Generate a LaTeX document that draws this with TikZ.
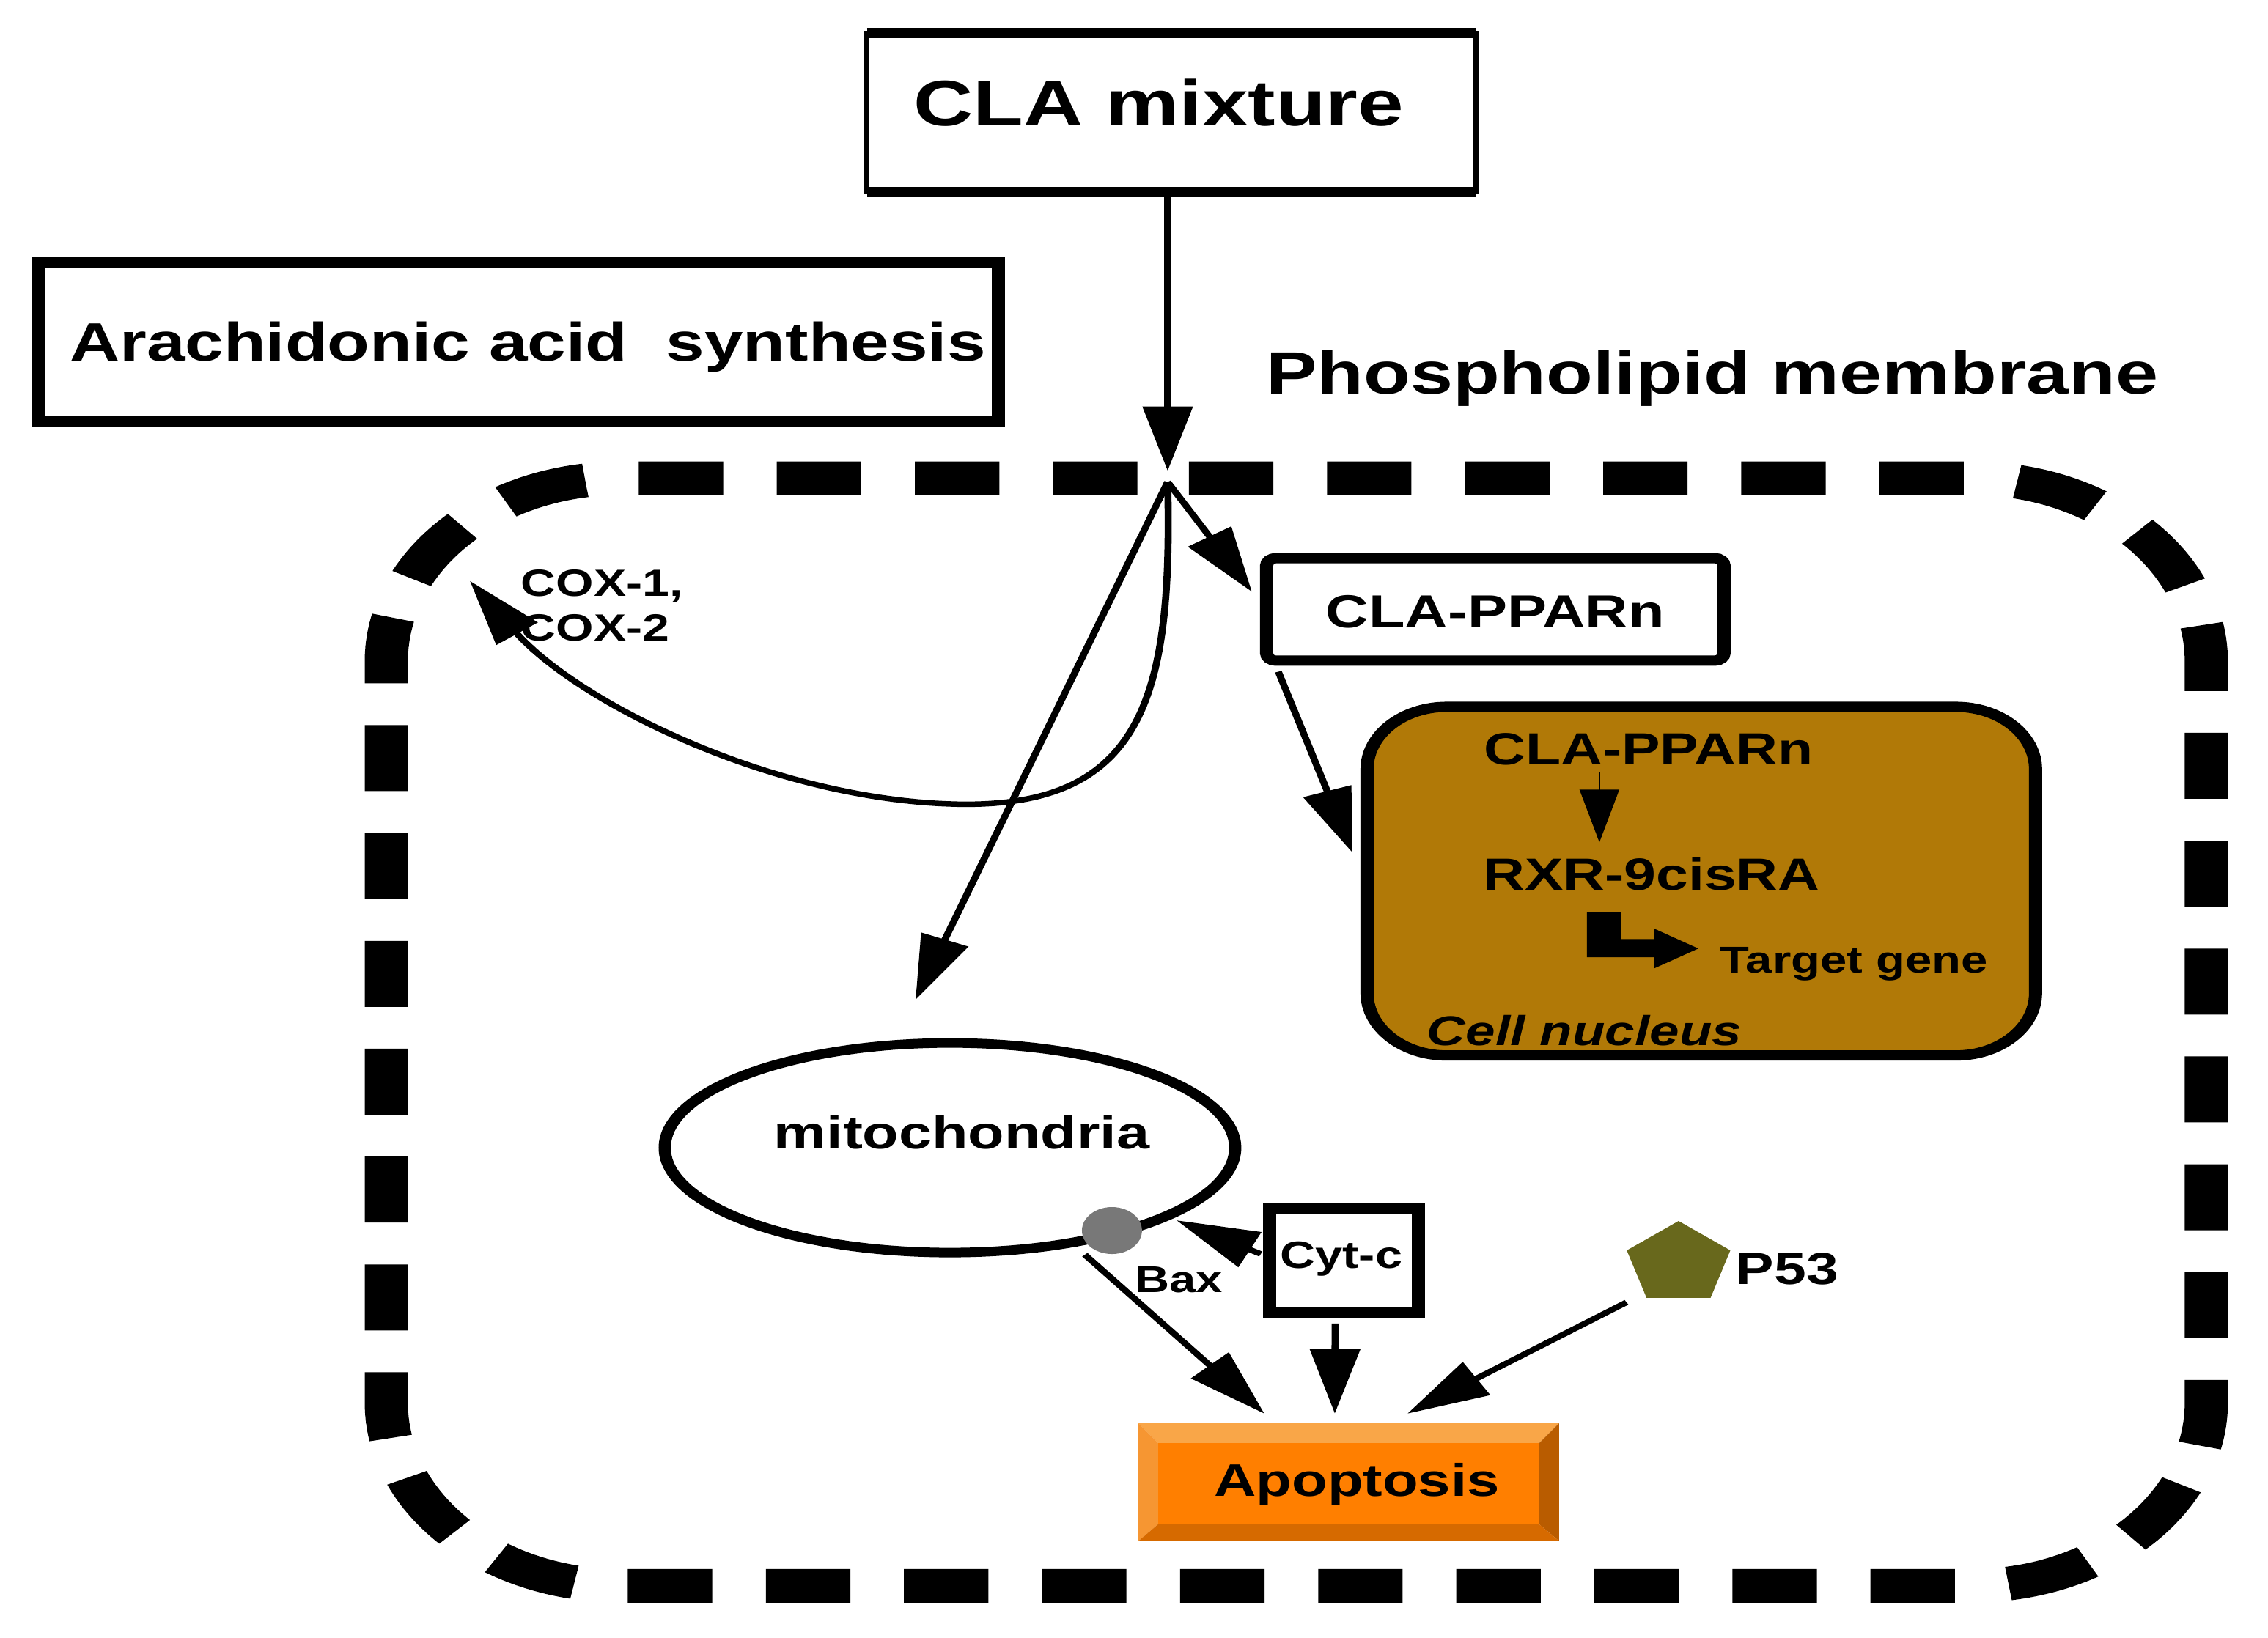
\documentclass[tikz,border=0pt]{standalone}
\usepackage{fontspec}
\setmainfont{Liberation Sans}
\usetikzlibrary{arrows.meta,shapes.geometric,fit}
\definecolor{nucbrown}{RGB}{177,121,7}
\definecolor{apomain}{RGB}{255,127,0}
\definecolor{apolight}{RGB}{249,166,72}
\definecolor{apoleft}{RGB}{246,150,50}
\definecolor{apodark}{RGB}{185,92,0}
\definecolor{apobot}{RGB}{214,106,0}
\definecolor{pfivethree}{RGB}{104,104,28}
\definecolor{baxgray}{RGB}{120,120,120}
\begin{document}
\begin{tikzpicture}[
  box/.style={draw, line width=0.14cm, inner sep=0pt, outer sep=0pt},
  arr/.style={line width=0.075cm, -{Triangle[length=0.88cm,width=0.52cm]}},
  sarr/.style={line width=0.02cm, -{Triangle[length=0.72cm,width=0.42cm]}},
  lbl/.style={inner sep=0pt, outer sep=0pt, text=black},
]
\useasboundingbox (0,0) rectangle (30.94cm,-22.35cm);
\fill[white] (0,0) rectangle (30.94cm,-22.35cm);
\begin{scope}[transform canvas={xscale=1.28}, x=0.0078125cm, y=-0.01cm]
  % membrane
  \draw[line width=0.46cm, dash pattern=on 0.9cm off 0.5716cm, rounded corners=2.5cm]
    (1622,653) -- (3010,653) -- (3010,2165) -- (527,2165) -- (527,653) -- (1556,653);

  % boxes
  \node[draw, line width=0.055cm, inner sep=0pt, outer sep=0pt, fit={(1183,45)(2014,262)}] (cla) {};
  \draw[line width=0.14cm] (cla.north west) -- (cla.north east);
  \draw[line width=0.14cm] (cla.south west) -- (cla.south east);
  \node[box, fit={(52,358)(1362,575)}] (ara) {};
  \node[box, rounded corners=0.1cm, fit={(1728,762)(2352,902)}] (ppar) {};
  \node[box, rounded corners=0.85cm, fill=nucbrown, fit={(1865,965)(2777,1441)}] (nuc) {};
  \node[box, fit={(1732,1650)(1935,1792)}] (cytc) {};
  \node[draw, ellipse, line width=0.13cm, inner sep=0pt, outer sep=0pt,
        minimum width=6.08cm, minimum height=2.86cm] (mito) at (1296,1567) {};
  \node[circle, fill=baxgray, inner sep=0pt, minimum size=0.64cm] (bax) at (1517,1680) {};
  \node[regular polygon, regular polygon sides=5, fill=pfivethree, inner sep=0pt,
        minimum size=1.16cm] (p53) at (2290,1725) {};
  \node[inner sep=0pt, outer sep=0pt, fit={(1553,1943)(2127,2104)}] (apo) {};
  \fill[apolight] (1553,1943) -- (2127,1943) -- (2100,1970) -- (1580,1970) -- cycle;
  \fill[apoleft] (1553,1943) -- (1580,1970) -- (1580,2081) -- (1553,2104) -- cycle;
  \fill[apodark] (2127,1943) -- (2127,2104) -- (2100,2081) -- (2100,1970) -- cycle;
  \fill[apobot] (1553,2104) -- (2127,2104) -- (2100,2081) -- (1580,2081) -- cycle;
  \fill[apomain] (1580,1970) rectangle (2100,2081);

  % texts
  \node[lbl, anchor=base, font=\fontsize{25}{30}\selectfont\bfseries] (claT) at (1581,172) {CLA mixture};
  \node[lbl, anchor=base, font=\fontsize{21}{25}\selectfont\bfseries] (araT) at (720,493) {Arachidonic acid\ \ synthesis};
  \node[lbl, anchor=base, font=\fontsize{23.2}{27}\selectfont\bfseries] (memT) at (2336,538) {Phospholipid membrane};
  \node[lbl, anchor=base, font=\fontsize{18}{22}\selectfont\bfseries] (pparT) at (2040,857) {CLA-PPARn};
  \node[lbl, anchor=base, font=\fontsize{17.5}{21}\selectfont\bfseries] (nclaT) at (2249,1044) {CLA-PPARn};
  \node[lbl, anchor=base, font=\fontsize{17.5}{21}\selectfont\bfseries] (rxrT) at (2253,1215) {RXR-9cisRA};
  \node[lbl, anchor=base west, font=\fontsize{14.5}{17}\selectfont\bfseries] (tgT) at (2347,1328) {Target gene};
  \node[lbl, anchor=base west, font=\fontsize{16.2}{19}\selectfont\bfseries\itshape] (cnT) at (1947,1427) {Cell nucleus};
  \node[lbl, anchor=base, font=\fontsize{18}{22}\selectfont\bfseries] (mitoT) at (1312,1568) {mitochondria};
  \node[lbl, anchor=base, font=\fontsize{14.5}{17}\selectfont\bfseries] (baxT) at (1608,1765) {Bax};
  \node[lbl, anchor=base, font=\fontsize{14.8}{17}\selectfont\bfseries] (cytT) at (1830,1731) {Cyt-c};
  \node[lbl, anchor=base, font=\fontsize{17.7}{21}\selectfont\bfseries] (apoT) at (1851,2043) {Apoptosis};
  \node[lbl, anchor=base west, font=\fontsize{17.5}{21}\selectfont\bfseries] (p53T) at (2368,1754) {P53};
  \node[lbl, anchor=north west, align=left, font=\fontsize{14.7}{17.4}\selectfont\bfseries] (coxT) at (711,778) {COX-1,\\COX-2};

  % connectors
  \coordinate (j) at (1593,658);
  \coordinate (t0) at (1593,643);
  \coordinate (t1) at (1708,808);
  \coordinate (t2) at (1249,1365);
  \coordinate (t3) at (641,793);
  \draw[arr] (cla.south -| j) -- (t0);
  \draw[arr] (j) -- (t1);
  \draw[arr] (j) -- (t2);
  \draw[arr] (j) .. controls (1600,950) and (1560,1100) .. (1313,1098)
                 .. controls (1060,1095) and (790,960) .. (t3);
  \draw[arr] ([shift={(16,15)}]ppar.south west) -- ([shift={(-20,-39)}]nuc.west);
  \draw[sarr] ([shift={(-67,10)}]nclaT.base) -- ([shift={(-71,-65)}]rxrT.base);
  \fill (2165,1245) -- (2212,1245) -- (2212,1282) -- (2257,1282) -- (2257,1268)
        -- (2317,1295) -- (2257,1322) -- (2257,1307) -- (2165,1307) -- cycle;
  \draw[arr] ([shift={(-12,-9)}]cytc.west) -- ([shift={(88,-14)}]bax.center);
  \draw[arr] ([shift={(-37,33)}]bax.center) -- ([shift={(-115,-13)}]apo.north);
  \draw[arr] ([shift={(-12,15)}]cytc.south) -- ([shift={(-19,-13)}]apo.north);
  \draw[arr] ([shift={(-71,53)}]p53.center) -- ([shift={(80,-13)}]apo.north);
\end{scope}
\end{tikzpicture}
\end{document}
